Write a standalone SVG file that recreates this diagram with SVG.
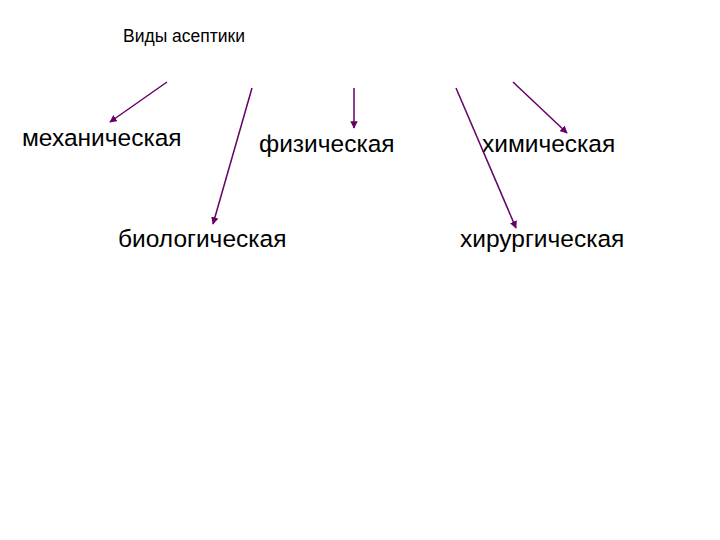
<svg xmlns="http://www.w3.org/2000/svg" width="720" height="540" viewBox="0 0 720 540">
<style>
text{font-family:"Liberation Sans",Arial,sans-serif;fill:#000}
.t{font-size:24.5px}
.h{font-size:17.5px}
.c line{stroke:#660066;stroke-width:1.5;marker-end:url(#a)}
</style>
<defs>
<marker id="a" viewBox="0 0 10 10" refX="9" refY="5" markerWidth="5" markerHeight="5" orient="auto" markerUnits="strokeWidth">
<path d="M0,0L10,5L0,10z" fill="#660066"/>
</marker>
</defs>
<rect width="720" height="540" fill="#fff"/>
<g id="title"><text class="h" x="123" y="42">Виды асептики</text></g>
<g id="mech"><text class="t" x="22" y="146">механическая</text></g>
<g id="phys"><text class="t" x="259" y="152">физическая</text></g>
<g id="chem"><text class="t" x="482" y="152">химическая</text></g>
<g id="bio"><text class="t" x="118" y="247">биологическая</text></g>
<g id="surg"><text class="t" x="460" y="247">хирургическая</text></g>
<g class="c" id="connectors">
<line x1="167" y1="82" x2="110" y2="122"/>
<line x1="252" y1="88" x2="213" y2="224"/>
<line x1="354" y1="88" x2="354" y2="128"/>
<line x1="456" y1="88" x2="516" y2="228"/>
<line x1="513" y1="82" x2="567" y2="133"/>
</g>
</svg>
